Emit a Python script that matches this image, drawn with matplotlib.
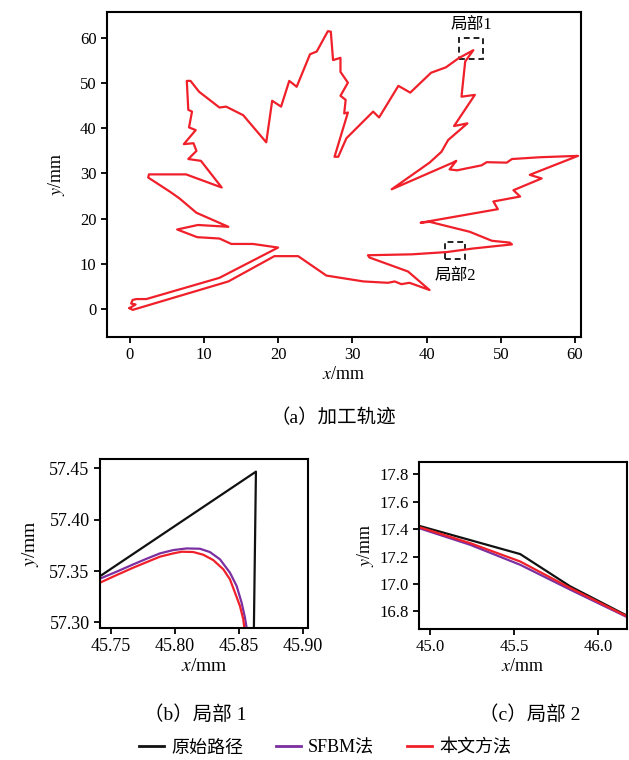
import matplotlib
matplotlib.use('Agg')
import matplotlib.pyplot as plt
from matplotlib.patches import Rectangle
from matplotlib.lines import Line2D

plt.rcParams['font.family'] = ['Liberation Serif', 'Noto Sans CJK SC']
plt.rcParams['mathtext.fontset'] = 'stix'
plt.rcParams['axes.unicode_minus'] = False

# maple leaf machining path (mm)
leaf_x = [0.0, 0.4, 13.3, 19.5, 22.7, 26.5, 31.5, 34.8, 35.7, 36.6, 37.7, 40.4,
          37.5, 32.3, 32.1, 38.0, 42.7, 46.3, 51.5, 51.2, 48.8, 45.8, 40.4, 39.2,
          49.6, 49.0, 52.6, 51.7, 55.5, 53.9, 60.4, 55.3, 51.5, 50.8, 48.1, 47.4,
          44.1, 43.1, 44.0, 43.4, 35.3, 40.4, 42.0, 42.9, 45.5, 43.7, 46.5, 44.7,
          45.2, 46.3, 44.3, 42.6, 40.6, 37.8, 36.2, 33.6, 32.8, 29.2, 28.1, 27.6,
          29.4, 28.9, 29.1, 28.4, 29.4, 28.4, 28.4, 27.4, 27.1, 26.7, 25.2, 24.3,
          22.5, 21.5, 20.4, 19.2, 18.4, 15.3, 13.0, 12.1, 9.35, 8.2, 7.7, 7.9,
          8.4, 8.0, 8.9, 7.3, 8.6, 9.0, 7.9, 9.6, 12.4, 7.6, 2.6, 2.5,
          5.4, 6.7, 9.0, 13.3, 9.2, 6.4, 9.1, 12.1, 13.7, 16.6, 20.0, 12.1,
          2.25, 0.9, 0.4, 0.2, 0.8, 0.0]
leaf_y = [0.2, -0.2, 6.1, 11.7, 11.7, 7.4, 6.1, 5.8, 6.1, 5.5, 5.8, 4.2,
          8.3, 11.4, 11.9, 12.1, 12.6, 13.4, 14.3, 14.7, 15.1, 17.1, 19.3, 19.1,
          22.1, 23.8, 24.9, 26.3, 28.9, 29.7, 33.9, 33.6, 33.2, 32.4, 32.5, 31.8,
          30.7, 30.9, 32.8, 32.3, 26.5, 32.4, 34.8, 37.4, 41.1, 40.5, 47.4, 47.0,
          54.8, 57.3, 55.5, 53.5, 52.3, 47.9, 49.4, 42.4, 43.7, 37.8, 33.7, 33.7,
          43.5, 43.3, 46.3, 47.2, 50.1, 52.5, 55.6, 55.1, 61.4, 61.5, 57.0, 56.4,
          49.2, 50.5, 44.8, 46.1, 36.9, 42.9, 44.8, 44.6, 48.1, 50.5, 50.5, 44.1,
          43.7, 40.2, 39.6, 36.5, 36.7, 35.0, 33.2, 32.8, 26.9, 29.8, 29.8, 29.1,
          26.0, 24.5, 21.3, 18.2, 18.6, 17.6, 15.9, 15.6, 14.4, 14.4, 13.6, 6.9,
          2.2, 2.2, 2.0, 1.2, 1.0, 0.2]

# detail 1
b_orig_x = [45.7414, 45.8633, 45.8617]
b_orig_y = [57.345, 57.4467, 57.2946]
b_sfbm_x = [45.7414, 45.7544, 45.7674, 45.7779, 45.7883, 45.7987, 45.8091,
            45.8195, 45.8273, 45.8352, 45.8430, 45.8482, 45.8521, 45.8547,
            45.8560]
b_sfbm_y = [57.3426, 57.3494, 57.3565, 57.3620, 57.3672, 57.3704, 57.3720,
            57.3717, 57.3685, 57.3614, 57.3484, 57.3355, 57.3193, 57.3047,
            57.2950]
b_ours_x = [45.7414, 45.7544, 45.7674, 45.7779, 45.7883, 45.7987, 45.8052,
            45.8143, 45.8221, 45.8299, 45.8378, 45.8430, 45.8469, 45.8508,
            45.8534, 45.8542]
b_ours_y = [57.3387, 57.3461, 57.3533, 57.3587, 57.3640, 57.3672, 57.3688,
            57.3685, 57.3659, 57.3607, 57.3517, 57.3419, 57.3290, 57.3160,
            57.3031, 57.2950]

# detail 2
c_orig_x = [44.9345, 45.536, 45.833, 46.171]
c_orig_y = [17.424, 17.218, 16.983, 16.769]
c_sfbm_x = [44.9345, 45.238, 45.536, 45.833, 46.171]
c_sfbm_y = [17.407, 17.286, 17.14, 16.959, 16.759]
c_ours_x = [44.9345, 45.238, 45.536, 45.833, 46.171]
c_ours_y = [17.415, 17.298, 17.164, 16.971, 16.764]

labels = ['原始路径', 'SFBM法', '本文方法']
colors = ['#111111', '#7b2fa0', '#f0202a']

box1 = (44.4, 55.3, 3.2, 4.6)
box2 = (42.5, 11.0, 2.7, 3.9)

W, H = 629, 760
fig = plt.figure(figsize=(W / 100, H / 100), dpi=100)


def ax_rect(l, t, r, b):
    return [l / W, 1 - b / H, (r - l) / W, (b - t) / H]


def style_ax(ax, size):
    for s in ax.spines.values():
        s.set_linewidth(1.5)
    ax.tick_params(direction='out', width=1.3, length=4, labelsize=size)


ax = fig.add_axes(ax_rect(107, 12, 581, 337))
ax.plot(leaf_x, leaf_y, color=colors[2], lw=1.6)
for bx, txt, ty in [(box1, '局部1', 62.8), (box2, '局部2', 7.3)]:
    ax.add_patch(Rectangle(bx[:2], bx[2], bx[3], fill=False, ec='#222222',
                           lw=1.4, ls=(0, (3, 2))))
    ax.text(bx[0] + bx[2] / 2, ty, txt, ha='center', va='center', fontsize=12)
ax.set_xlim(-3.05, 60.8)
ax.set_ylim(-6.2, 65.75)
ax.set_xticks(range(0, 61, 10))
ax.set_yticks(range(0, 61, 10))
style_ax(ax, 12)
ax.set_xlabel('$x$/mm', fontsize=13, labelpad=2)
ax.set_ylabel('$y$/mm', fontsize=13, labelpad=9)
fig.text(333 / W, 1 - 418 / H, '（a）加工轨迹', ha='center', va='center',
         fontsize=14)

axb = fig.add_axes(ax_rect(100, 459, 308, 628))
axb.plot(b_orig_x, b_orig_y, color=colors[0], lw=1.6)
axb.plot(b_sfbm_x, b_sfbm_y, color=colors[1], lw=1.6)
axb.plot(b_ours_x, b_ours_y, color=colors[2], lw=1.6)
axb.set_xlim(45.7414, 45.904)
axb.set_ylim(57.2946, 57.459)
axb.set_xticks([45.75, 45.80, 45.85, 45.90])
axb.set_yticks([57.30, 57.35, 57.40, 57.45])
axb.xaxis.set_major_formatter('{x:.2f}')
axb.yaxis.set_major_formatter('{x:.2f}')
style_ax(axb, 13)
axb.set_xlabel('$x$/mm', fontsize=14, labelpad=2)
axb.set_ylabel('$y$/mm', fontsize=14, labelpad=6)
fig.text(195 / W, 1 - 715 / H, '（b）局部 1', ha='center', va='center',
         fontsize=14)

axc = fig.add_axes(ax_rect(419, 462, 627, 629))
axc.plot(c_orig_x, c_orig_y, color=colors[0], lw=1.6)
axc.plot(c_sfbm_x, c_sfbm_y, color=colors[1], lw=1.6)
axc.plot(c_ours_x, c_ours_y, color=colors[2], lw=1.6)
axc.set_xlim(44.9345, 46.171)
axc.set_ylim(16.672, 17.889)
axc.set_xticks([45.0, 45.5, 46.0])
axc.set_yticks([16.8, 17.0, 17.2, 17.4, 17.6, 17.8])
axc.xaxis.set_major_formatter('{x:.1f}')
axc.yaxis.set_major_formatter('{x:.1f}')
style_ax(axc, 12)
axc.set_xlabel('$x$/mm', fontsize=13, labelpad=2)
axc.set_ylabel('$y$/mm', fontsize=13, labelpad=2)
fig.text(530 / W, 1 - 715 / H, '（c）局部 2', ha='center', va='center',
         fontsize=14)

handles = [Line2D([], [], color=c, lw=2) for c in colors]
fig.legend(handles, labels, loc='center', bbox_to_anchor=(325 / W, 1 - 748 / H),
           ncol=3, frameon=False, fontsize=13, handlelength=1.4,
           handletextpad=0.4, columnspacing=1.8)

fig.savefig('out.png', dpi=100)
